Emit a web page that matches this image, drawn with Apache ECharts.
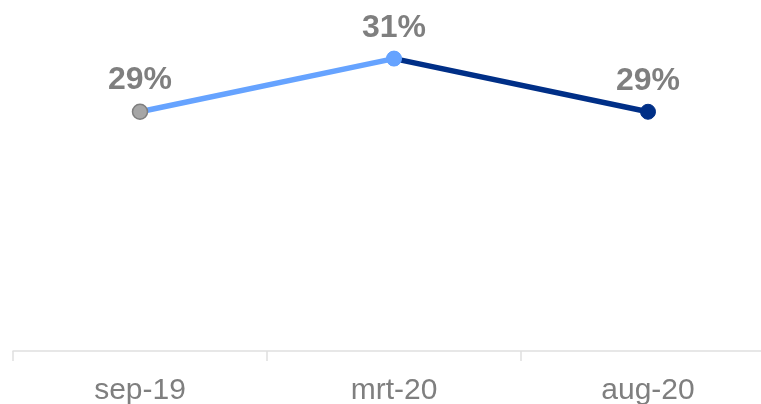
<!DOCTYPE html>
<html><head><meta charset="utf-8">
<script src="https://cdn.jsdelivr.net/npm/echarts@6/dist/echarts.min.js"></script>
<style>html,body{margin:0;padding:0;background:#fff}#c{width:761px;height:404px}</style>
</head><body><div id="c"></div>
<script>
const categories = ['sep-19', 'mrt-20', 'aug-20'];
const values = [0.29, 0.31, 0.29];
const firstSegment = [values[0], values[1], '-'];
const secondSegment = ['-', values[1], values[2]];
const markerColors = ['#a6a6a6', '#66a3ff', '#002f87'];

const chart = echarts.init(document.getElementById('c'), null, {renderer: 'canvas'});
const fmt = p => Math.round(p.value * 100) + '%';
const labelStyle = {show: true, position: 'top', distance: 7, formatter: fmt,
  color: '#7f7f7f', fontWeight: 'bold', fontSize: 32, fontFamily: 'Liberation Sans, Arial, sans-serif'};
chart.setOption({
  animation: false,
  grid: {left: 13, width: 762, top: 32, bottom: 53, containLabel: false, outerBoundsMode: 'none'},
  xAxis: {
    type: 'category', data: categories, boundaryGap: true,
    axisLine: {lineStyle: {color: '#e0e0e0', width: 1.5}},
    axisTick: {show: true, length: 10, lineStyle: {color: '#e0e0e0', width: 1.5}},
    axisLabel: {color: '#7f7f7f', fontSize: 30, margin: 25, fontFamily: 'Liberation Sans, Arial, sans-serif'},
    splitLine: {show: false}
  },
  yAxis: {type: 'value', min: 0.2, max: 0.32, show: false, splitLine: {show: false}},
  series: [
    {
      type: 'line', z: 2, data: secondSegment.map((v, i) => v === '-' ? '-' : {value: v, itemStyle: {color: markerColors[i], borderColor: markerColors[i]}}),
      lineStyle: {color: '#002f87', width: 5.5}, symbol: 'circle', symbolSize: 15,
      label: Object.assign({}, labelStyle, {formatter: p => p.dataIndex === 2 ? fmt(p) : ''})
    },
    {
      type: 'line', z: 3, data: firstSegment.map((v, i) => v === '-' ? '-' : {value: v, itemStyle: {color: markerColors[i], borderColor: i === 0 ? '#7f7f7f' : markerColors[i], borderWidth: i === 0 ? 1.5 : 0}}),
      lineStyle: {color: '#66a3ff', width: 5.5}, symbol: 'circle', symbolSize: 15,
      label: labelStyle
    }
  ]
});
</script></body></html>
